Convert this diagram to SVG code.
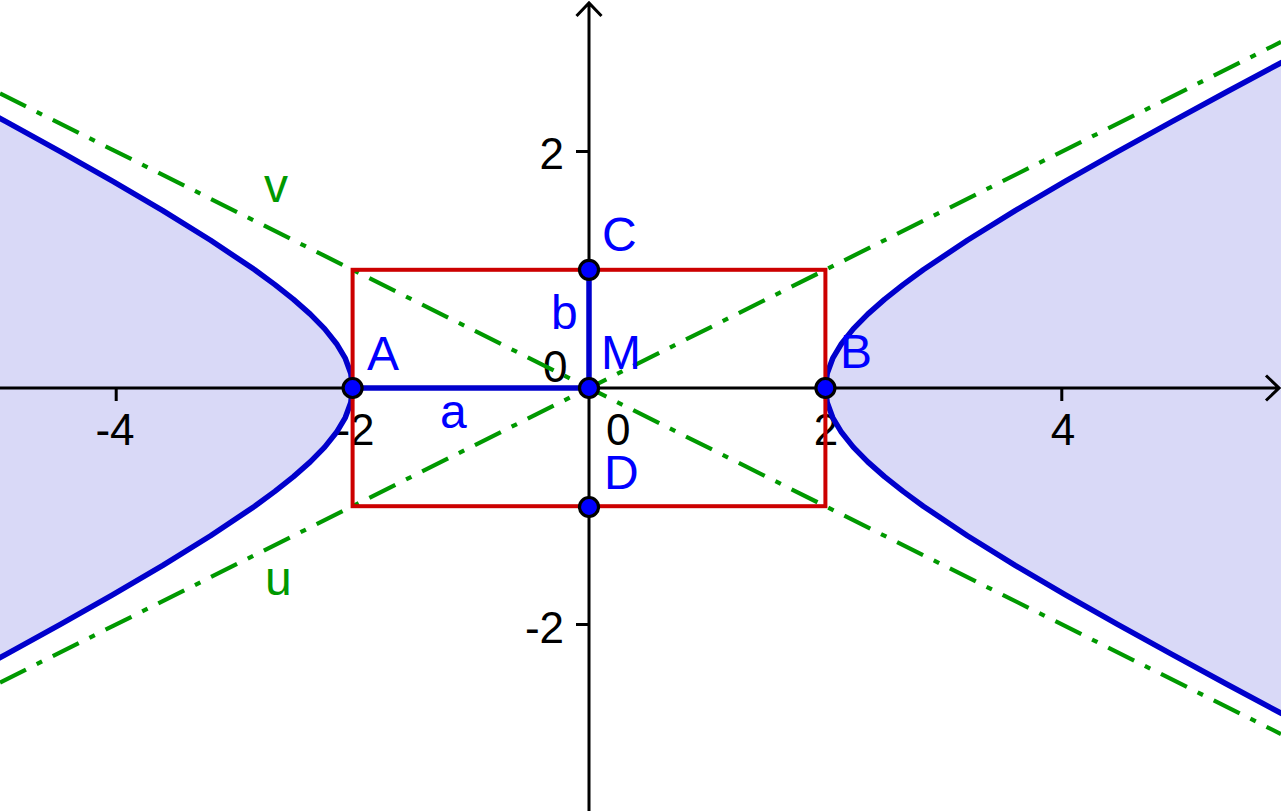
<svg xmlns="http://www.w3.org/2000/svg" width="1281" height="811" viewBox="0 0 1281 811">
<style>
.fill{fill:#D9D9F7;stroke:none}
.axis{stroke:#000;stroke-width:3;fill:none}
.num{font-family:"Liberation Sans",Arial,sans-serif;font-size:44px;fill:#000}
.hyp{stroke:#0000CC;stroke-width:5.5;fill:none;stroke-linejoin:round}
.asym{stroke:#009900;stroke-width:4.2;fill:none;stroke-dasharray:29 12 6 12}
.rect{stroke:#CC0000;stroke-width:4;fill:none}
.seg{stroke:#0000CC;stroke-width:5.5;fill:none}
.pt{fill:#0000FF;stroke:#000;stroke-width:3.2}
.lbl{font-family:"Liberation Sans",Arial,sans-serif;font-size:48px;fill:#0000FF}
.glbl{font-family:"Liberation Sans",Arial,sans-serif;font-size:48px;fill:#009900}
</style>
<rect width="1281" height="811" fill="#fff"/>
<g id="regions">
<path class="fill" d="M1336.56 33.4 L1280.75 62.95 L1225.53 92.5 L1171.07 122.05 L1117.61 151.6 L1065.48 181.15 L1015.18 210.7 L967.42 240.25 L923.32 269.8 L903.12 284.6 L884.5 299.35 L867.77 314.1 L853.3 328.9 L841.48 343.68 L832.68 358.45 L827.24 373.2 L825.4 388 L827.24 402.8 L832.68 417.55 L841.48 432.32 L853.3 447.1 L867.77 461.9 L884.5 476.65 L903.12 491.4 L923.32 506.2 L967.42 535.75 L1015.18 565.3 L1065.48 594.85 L1117.61 624.4 L1171.07 653.95 L1225.53 683.5 L1280.75 713.05 L1336.56 742.6 L1400 742.6 L1400 33.4 Z"/>
<path class="fill" d="M-158.56 33.4 L-102.75 62.95 L-47.53 92.5 L6.93 122.05 L60.39 151.6 L112.52 181.15 L162.82 210.7 L210.58 240.25 L254.68 269.8 L274.88 284.6 L293.5 299.35 L310.23 314.1 L324.7 328.9 L336.52 343.68 L345.32 358.45 L350.76 373.2 L352.6 388 L350.76 402.8 L345.32 417.55 L336.52 432.32 L324.7 447.1 L310.23 461.9 L293.5 476.65 L274.88 491.4 L254.68 506.2 L210.58 535.75 L162.82 565.3 L112.52 594.85 L60.39 624.4 L6.93 653.95 L-47.53 683.5 L-102.75 713.05 L-158.56 742.6 L-200 742.6 L-200 33.4 Z"/>
</g>
<g id="axes">
<path class="axis" d="M0 388 L1279 388 M1266 375.5 L1279 388 L1266 400.5"/>
<path class="axis" d="M589 811 L589 3 M576.5 16 L589 3 L601.5 16"/>
<path class="axis" d="M116.2 388 V401 M352.6 388 V401 M825.4 388 V401 M1061.8 388 V401 M576 151.6 H589 M576 624.4 H589"/>
<text class="num" x="115" y="445" text-anchor="middle">-4</text>
<text class="num" x="355" y="445" text-anchor="middle">-2</text>
<text class="num" x="826" y="445" text-anchor="middle">2</text>
<text class="num" x="1063" y="445" text-anchor="middle">4</text>
<text class="num" x="606" y="445">0</text>
<text class="num" x="543" y="382">0</text>
<text class="num" x="564" y="169" text-anchor="end">2</text>
<text class="num" x="564" y="643" text-anchor="end">-2</text>
</g>
<g id="connectors">
<path id="hyperbola-right" class="hyp" d="M1336.56 33.4 L1280.75 62.95 L1225.53 92.5 L1171.07 122.05 L1117.61 151.6 L1065.48 181.15 L1015.18 210.7 L967.42 240.25 L923.32 269.8 L903.12 284.6 L884.5 299.35 L867.77 314.1 L853.3 328.9 L841.48 343.68 L832.68 358.45 L827.24 373.2 L825.4 388 L827.24 402.8 L832.68 417.55 L841.48 432.32 L853.3 447.1 L867.77 461.9 L884.5 476.65 L903.12 491.4 L923.32 506.2 L967.42 535.75 L1015.18 565.3 L1065.48 594.85 L1117.61 624.4 L1171.07 653.95 L1225.53 683.5 L1280.75 713.05 L1336.56 742.6"/>
<path id="hyperbola-left" class="hyp" d="M-158.56 33.4 L-102.75 62.95 L-47.53 92.5 L6.93 122.05 L60.39 151.6 L112.52 181.15 L162.82 210.7 L210.58 240.25 L254.68 269.8 L274.88 284.6 L293.5 299.35 L310.23 314.1 L324.7 328.9 L336.52 343.68 L345.32 358.45 L350.76 373.2 L352.6 388 L350.76 402.8 L345.32 417.55 L336.52 432.32 L324.7 447.1 L310.23 461.9 L293.5 476.65 L274.88 491.4 L254.68 506.2 L210.58 535.75 L162.82 565.3 L112.52 594.85 L60.39 624.4 L6.93 653.95 L-47.53 683.5 L-102.75 713.05 L-158.56 742.6"/>
<line id="u" class="asym" x1="0" y1="682.5" x2="1281" y2="42"/>
<line id="v" class="asym" x1="0" y1="93.5" x2="1281" y2="734"/>
<rect id="box" class="rect" x="352.6" y="269.8" width="472.8" height="236.4"/>
<line id="seg-a" class="seg" x1="352.6" y1="388" x2="589" y2="388"/>
<line id="seg-b" class="seg" x1="589" y1="388" x2="589" y2="269.8"/>
</g>
<g id="labels-lines">
<text class="lbl" x="440" y="428">a</text>
<text class="lbl" x="551" y="329">b</text>
<text class="glbl" x="265" y="595">u</text>
<text class="glbl" x="264" y="202">v</text>
</g>
<g id="A"><circle class="pt" cx="352.6" cy="388" r="9.5"/><text class="lbl" x="367" y="370">A</text></g>
<g id="B"><circle class="pt" cx="825.4" cy="388" r="9.5"/><text class="lbl" x="840" y="368">B</text></g>
<g id="C"><circle class="pt" cx="589" cy="269.8" r="9.5"/><text class="lbl" x="602" y="251">C</text></g>
<g id="D"><circle class="pt" cx="589" cy="507" r="9.5"/><text class="lbl" x="604" y="489">D</text></g>
<g id="M"><circle class="pt" cx="589" cy="388" r="9.5"/><text class="lbl" x="601" y="369">M</text></g>
</svg>
